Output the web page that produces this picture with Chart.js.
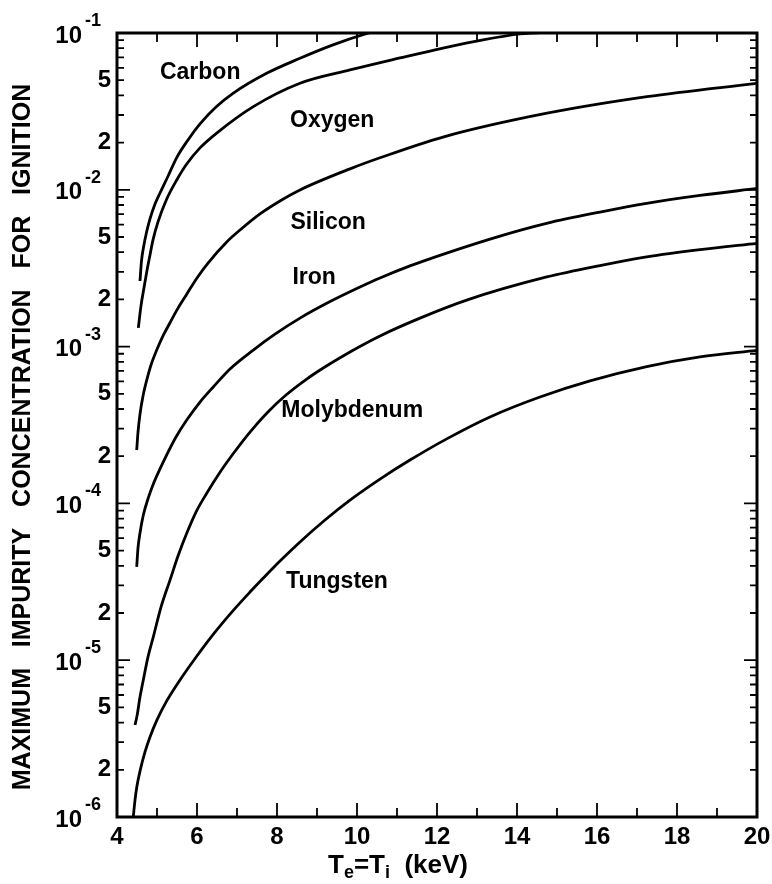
<!DOCTYPE html>
<html lang="en">
<head>
<meta charset="utf-8">
<title>Maximum impurity concentration for ignition</title>
<script src="https://cdn.jsdelivr.net/npm/chart.js@4.4.1/dist/chart.umd.min.js"></script>
<style>
  html, body { margin: 0; padding: 0; background: #fff; }
  canvas { display: block; }
</style>
</head>
<body>
<canvas id="ignitionChart" width="772" height="884"></canvas>
<script>
'use strict';

// Te = Ti (keV) and the highest impurity fraction that still allows ignition
const carbonT = [4.575, 4.61, 4.66, 4.74, 4.825, 4.95, 5.075, 5.275, 5.49, 5.775, 6.075, 6.475, 6.9, 7.74, 8.575, 9.4, 10.25, 10.8];
const carbonC = [2.62e-3, 3.47e-3, 4.26e-3, 5.38e-3, 6.52e-3, 8.11e-3, 9.54e-3, 1.22e-2, 1.6e-2, 2.08e-2, 2.63e-2, 3.37e-2, 4.12e-2, 5.53e-2, 6.9e-2, 8.4e-2, 9.93e-2, 1.08e-1];

const oxygenT = [4.533, 4.6, 4.675, 4.743, 4.825, 4.9, 5.025, 5.243, 5.493, 5.743, 6.075, 6.493, 7.408, 8.575, 9.825, 11.075, 12.15, 13.15, 14.075, 15.0];
const oxygenC = [1.315e-3, 1.82e-3, 2.37e-3, 2.99e-3, 3.84e-3, 4.79e-3, 6.24e-3, 8.73e-3, 1.155e-2, 1.46e-2, 1.85e-2, 2.3e-2, 3.39e-2, 4.78e-2, 5.81e-2, 6.93e-2, 8.02e-2, 9.05e-2, 9.86e-2, 1.02e-1];

const siliconT = [4.493, 4.525, 4.575, 4.65, 4.743, 4.85, 4.993, 5.15, 5.325, 5.525, 5.743, 6.0, 6.275, 6.743, 7.075, 7.575, 8.075, 8.575, 9.825, 10.575, 12.15, 14.75, 17.25, 20];
const siliconC = [2.19e-4, 2.85e-4, 3.71e-4, 4.84e-4, 6.12e-4, 7.63e-4, 9.51e-4, 1.17e-3, 1.42e-3, 1.76e-3, 2.16e-3, 2.74e-3, 3.41e-3, 4.65e-3, 5.54e-3, 7.02e-3, 8.49e-3, 9.98e-3, 1.36e-2, 1.6e-2, 2.17e-2, 3.08e-2, 3.93e-2, 4.78e-2];

const ironT = [4.493, 4.525, 4.575, 4.658, 4.775, 4.908, 5.075, 5.243, 5.475, 5.743, 6.075, 6.408, 6.825, 7.408, 7.95, 8.575, 9.4, 10.075, 10.575, 11.325, 12.24, 13.575, 14.74, 16.075, 17.24, 18.575, 20];
const ironC = [3.94e-5, 5.2e-5, 6.48e-5, 8.43e-5, 1.07e-4, 1.33e-4, 1.66e-4, 2.04e-4, 2.65e-4, 3.4e-4, 4.43e-4, 5.53e-4, 7.2e-4, 9.51e-4, 1.2e-3, 1.52e-3, 1.98e-3, 2.4e-3, 2.74e-3, 3.27e-3, 3.95e-3, 5.07e-3, 6.11e-3, 7.21e-3, 8.2e-3, 9.2e-3, 1.02e-2];

const molybdenumT = [4.45, 4.5, 4.575, 4.658, 4.775, 4.908, 5.1, 5.325, 5.525, 5.743, 5.975, 6.243, 6.575, 6.908, 7.325, 7.743, 8.225, 8.743, 9.275, 9.825, 10.575, 11.575, 12.743, 14.743, 16.075, 17.243, 18.575, 20];
const molybdenumC = [3.86e-6, 4.4e-6, 5.82e-6, 7.48e-6, 1.05e-5, 1.41e-5, 2.18e-5, 3.24e-5, 4.62e-5, 6.45e-5, 8.81e-5, 1.16e-4, 1.58e-4, 2.08e-4, 2.85e-4, 3.76e-4, 4.91e-4, 6.21e-4, 7.63e-4, 9.25e-4, 1.17e-3, 1.52e-3, 1.98e-3, 2.78e-3, 3.29e-3, 3.74e-3, 4.16e-3, 4.56e-3];

const tungstenT = [4.4075, 4.45, 4.5, 4.575, 4.7, 4.825, 5.0, 5.243, 5.575, 5.993, 6.45, 6.908, 7.325, 7.658, 8.075, 8.575, 9.2, 9.825, 10.575, 11.325, 12.243, 13.325, 14.575, 15.825, 17.243, 18.575, 20];
const tungstenC = [1.0e-6, 1.28e-6, 1.58e-6, 1.96e-6, 2.6e-6, 3.24e-6, 4.16e-6, 5.5e-6, 7.48e-6, 1.06e-5, 1.51e-5, 2.08e-5, 2.72e-5, 3.34e-5, 4.29e-5, 5.68e-5, 7.84e-5, 1.05e-4, 1.43e-4, 1.89e-4, 2.58e-4, 3.56e-4, 4.77e-4, 6.04e-4, 7.45e-4, 8.59e-4, 9.45e-4];

// curve names, written next to each line
const elementNames = ['Carbon', 'Oxygen', 'Silicon', 'Iron', 'Molybdenum', 'Tungsten'];
const nameT = [6.08, 9.38, 9.28, 8.93, 9.88, 9.5];
const nameC = [5.6e-2, 2.75e-2, 6.2e-3, 2.75e-3, 3.9e-4, 3.15e-5];

// axes
const xMin = 4, xMax = 20;
const xTickMarks = [5, 6, 7, 8, 9, 10, 11, 12, 13, 14, 15, 16, 17, 18, 19];
const yDecades = [-6, -5, -4, -3, -2, -1];
const yLabelMantissas = [2, 5];

const FONT = '"Liberation Sans", Arial, Helvetica, sans-serif';

const series = [
  [carbonT, carbonC], [oxygenT, oxygenC], [siliconT, siliconC],
  [ironT, ironC], [molybdenumT, molybdenumC], [tungstenT, tungstenC],
];

const yLabelValues = [];
const yMinorValues = [];
yDecades.forEach(e => {
  yLabelValues.push(Math.pow(10, e));
  if (e === yDecades[yDecades.length - 1]) return;
  yLabelMantissas.forEach(m => yLabelValues.push(m * Math.pow(10, e)));
  for (let m = 2; m <= 9; m++) yMinorValues.push(m * Math.pow(10, e));
});

const isDecade = v => Math.abs(Math.log10(v) - Math.round(Math.log10(v))) < 1e-9;

// frame, inward ticks, power-of-ten labels, axis titles and curve names
const decorations = {
  id: 'decorations',
  afterDraw(chart) {
    const { ctx, chartArea: a, scales: { x, y } } = chart;
    ctx.save();
    ctx.strokeStyle = '#000';
    ctx.fillStyle = '#000';

    ctx.lineWidth = 1.8;
    ctx.beginPath();
    yDecades.forEach(e => {
      const py = y.getPixelForValue(Math.pow(10, e));
      ctx.moveTo(a.left, py); ctx.lineTo(a.left + 13, py);
      ctx.moveTo(a.right, py); ctx.lineTo(a.right - 13, py);
    });
    yMinorValues.forEach(v => {
      const py = y.getPixelForValue(v);
      ctx.moveTo(a.left, py); ctx.lineTo(a.left + 7, py);
      ctx.moveTo(a.right, py); ctx.lineTo(a.right - 7, py);
    });
    xTickMarks.forEach(t => {
      const px = x.getPixelForValue(t);
      const len = t % 2 === 0 ? 14 : 9;
      ctx.moveTo(px, a.bottom); ctx.lineTo(px, a.bottom - len);
      ctx.moveTo(px, a.top); ctx.lineTo(px, a.top + len);
    });
    ctx.stroke();

    ctx.lineWidth = 3;
    ctx.strokeRect(a.left, a.top, a.right - a.left, a.bottom - a.top);

    // 10^n labels
    yDecades.forEach(e => {
      const py = y.getPixelForValue(Math.pow(10, e));
      ctx.font = 'bold 24px ' + FONT;
      ctx.textAlign = 'right';
      ctx.textBaseline = 'middle';
      ctx.fillText('10', a.left - 35, py + 3);
      ctx.font = 'bold 18px ' + FONT;
      ctx.textAlign = 'left';
      ctx.fillText('-' + Math.abs(e), a.left - 32, py - 12);
    });

    // curve names
    ctx.font = 'bold 23px ' + FONT;
    ctx.textAlign = 'center';
    ctx.textBaseline = 'middle';
    elementNames.forEach((n, i) => {
      ctx.fillText(n, x.getPixelForValue(nameT[i]), y.getPixelForValue(nameC[i]));
    });

    // x title: Te = Ti (keV)
    let tx = 328;
    const ty = 866;
    const put = (s, size, dy) => {
      ctx.font = 'bold ' + size + 'px ' + FONT;
      ctx.textAlign = 'left';
      ctx.textBaseline = 'middle';
      ctx.fillText(s, tx, ty + dy);
      tx += ctx.measureText(s).width;
    };
    put('T', 26, 0); put('e', 18, 7); put('=', 26, 0);
    put('T', 26, 0); put('i', 18, 7); put('  (keV)', 26, 0);

    // y title
    ctx.translate(23, 437);
    ctx.rotate(-Math.PI / 2);
    ctx.font = 'bold 25px ' + FONT;
    ctx.textAlign = 'center';
    ctx.textBaseline = 'middle';
    ctx.fillText('MAXIMUM   IMPURITY   CONCENTRATION   FOR   IGNITION', 0, 0);
    ctx.restore();
  },
};

new Chart(document.getElementById('ignitionChart'), {
  type: 'line',
  data: {
    datasets: series.map(([t, c], i) => ({
      label: elementNames[i],
      data: t.map((v, k) => ({ x: v, y: c[k] })),
      borderColor: '#000',
      borderWidth: 2.8,
      pointRadius: 0,
      fill: false,
      cubicInterpolationMode: 'monotone',
    })),
  },
  options: {
    responsive: false,
    animation: false,
    devicePixelRatio: 1,
    layout: { padding: { top: 33, right: 15, left: 0, bottom: 0 } },
    plugins: { legend: { display: false }, tooltip: { enabled: false } },
    scales: {
      x: {
        type: 'linear',
        min: xMin,
        max: xMax,
        grid: { display: false, drawTicks: false },
        border: { display: false },
        ticks: {
          stepSize: 2,
          autoSkip: false,
          maxRotation: 0,
          padding: 6,
          color: '#000',
          font: { family: FONT, size: 24, weight: 'bold' },
        },
        afterFit(scale) {
          scale.height = 67;
          scale.paddingLeft = 0;
          scale.paddingRight = 0;
        },
      },
      y: {
        type: 'logarithmic',
        min: 1e-6,
        max: 1e-1,
        grid: { display: false, drawTicks: false },
        border: { display: false },
        afterBuildTicks(scale) {
          scale.ticks = yLabelValues.map(v => ({ value: v }));
        },
        ticks: {
          autoSkip: false,
          padding: 6,
          color: '#000',
          font: { family: FONT, size: 24, weight: 'bold' },
          callback: v => (isDecade(v) ? '' : String(Math.round(v / Math.pow(10, Math.floor(Math.log10(v) + 1e-9))))),
        },
        afterFit(scale) {
          scale.width = 117;
          scale.paddingTop = 0;
          scale.paddingBottom = 0;
        },
      },
    },
  },
  plugins: [decorations],
});
</script>
</body>
</html>
